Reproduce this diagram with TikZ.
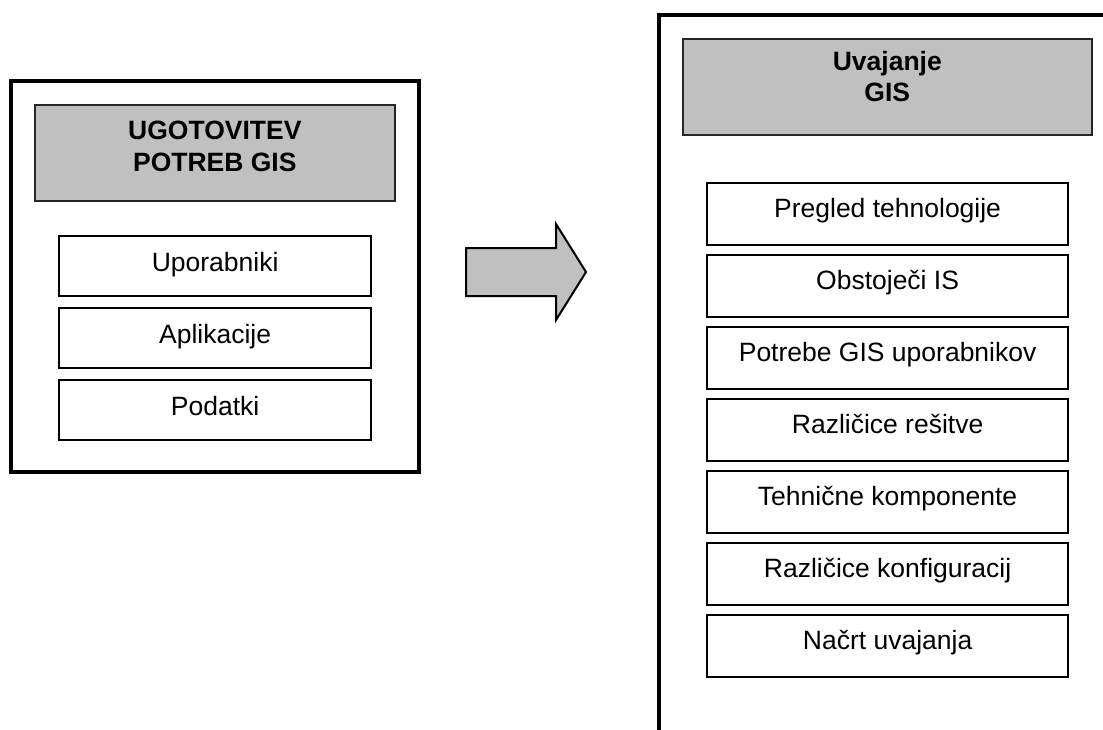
\documentclass[tikz,border=0pt]{standalone}
\usepackage{fontspec}
\setmainfont{Liberation Sans}
\definecolor{headgray}{HTML}{C0C0C0}
\begin{document}
\begin{tikzpicture}[x=1pt,y=-1pt,
  frame/.style={draw=black, line width=4pt},
  headbox/.style={draw=black!85, line width=1.6pt, fill=headgray,
    anchor=north west, inner sep=0pt},
  itembox/.style={draw=black, line width=2.2pt, fill=white,
    anchor=north west, inner sep=0pt},
  lbl/.style={anchor=base, inner sep=0pt,
    font=\fontsize{26.5}{30.5}\selectfont},
  ttl/.style={lbl, font=\fontsize{26.5}{30.5}\selectfont\bfseries},
  bigarrow/.style={draw=black, line width=2pt, fill=headgray, line join=miter},
]
\useasboundingbox (0,0) rectangle (1103,729);
\clip (0,0) rectangle (1103,729);

% left panel: needs analysis
\draw[frame] (10.5,80.5) rectangle (419,472);
\node[headbox, minimum width=360pt, minimum height=96pt] (lh) at (34,104) {};
\node[ttl] (lt1) at ([yshift=-35pt]lh.north) {UGOTOVITEV};
\node[ttl] (lt2) at ([yshift=-67pt]lh.north) {POTREB GIS};

\foreach \i/\txt in {0/Uporabniki, 1/Aplikacije, 2/Podatki}{
  \node[itembox, minimum width=312pt, minimum height=60pt]
    (l\i) at (58,235+72*\i) {};
  \node[lbl] (lx\i) at ([yshift=-36.5pt]l\i.north) {\txt};
}

% block arrow between the panels
\draw[bigarrow] (466,248) -- (556,248) -- (556,224) -- (586,272)
  -- (556,320) -- (556,296) -- (466,296) -- cycle;

% right panel: implementation (runs past the page edge)
\draw[frame] (659,14.5) rectangle (1140,770);
\node[headbox, minimum width=409pt, minimum height=96pt] (rh) at (682,38) {};
\node[ttl] (rt1) at ([yshift=-32pt]rh.north) {Uvajanje};
\node[ttl] (rt2) at ([yshift=-63pt]rh.north) {GIS};

\foreach \i/\txt in {0/Pregled tehnologije, 1/Obstoječi IS,
    2/Potrebe GIS uporabnikov, 3/Različice rešitve,
    4/Tehnične komponente, 5/Različice konfiguracij, 6/Načrt uvajanja}{
  \node[itembox, minimum width=361pt, minimum height=62pt]
    (r\i) at (706,182+72*\i) {};
  \node[lbl] (rx\i) at ([yshift=-35.5pt]r\i.north) {\txt};
}
\end{tikzpicture}
\end{document}
